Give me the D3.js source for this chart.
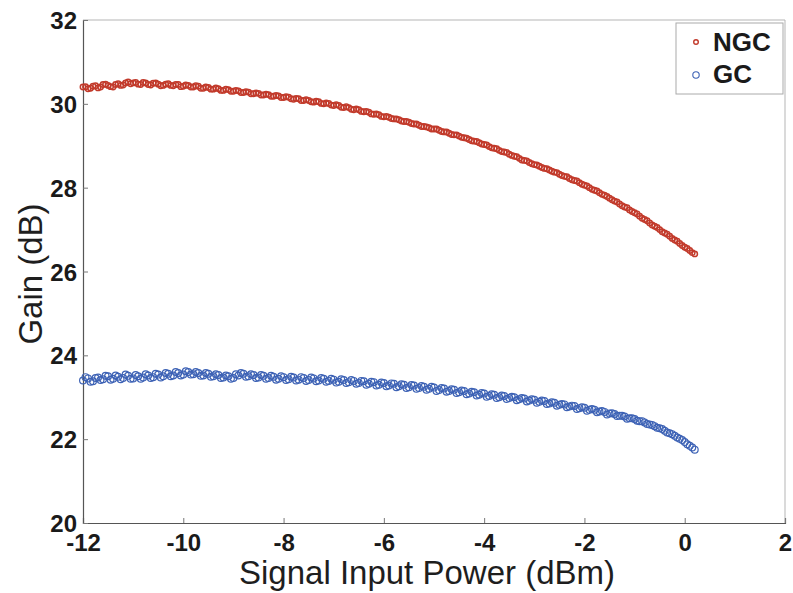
<!DOCTYPE html>
<html><head><meta charset="utf-8">
<script src="https://cdn.jsdelivr.net/npm/d3@7"></script>
<style>body{margin:0;background:#fff}svg{display:block}text{font-family:Arial,"Liberation Sans",sans-serif}</style>
</head><body>
<svg id="c" width="793" height="593"></svg>
<script>
// sweep 1: x from -12.0 step 0.1 ; sweep 2: x from -11.95 step 0.1
const xStart1 = -12.0, xStart2 = -11.95, xStep = 0.1;
const ngcGain = [30.40,30.36,30.42,30.38,30.46,30.44,30.40,30.48,30.45,30.52,30.50,30.47,30.51,30.46,30.49,30.47,30.44,30.48,30.43,30.46,
30.42,30.44,30.40,30.42,30.37,30.39,30.35,30.36,30.32,30.34,30.30,30.31,30.27,30.28,30.24,30.25,30.21,30.22,30.18,30.19,
30.15,30.16,30.11,30.12,30.08,30.08,30.04,30.05,30.00,30.01,29.96,29.96,29.91,29.91,29.86,29.86,29.81,29.80,29.75,29.74,
29.69,29.68,29.64,29.62,29.58,29.56,29.52,29.49,29.46,29.43,29.40,29.37,29.33,29.30,29.26,29.23,29.19,29.15,29.11,29.07,
29.03,28.98,28.94,28.89,28.85,28.80,28.75,28.70,28.65,28.60,28.55,28.51,28.46,28.42,28.37,28.32,28.27,28.22,28.17,28.12,
28.06,28.00,27.94,27.88,27.82,27.75,27.68,27.61,27.54,27.47,27.40,27.32,27.24,27.16,27.08,27.00,26.92,26.84,26.75,26.67,
26.58,26.50,26.42];
const ngcGain2 = [30.41,30.37,30.43,30.40,30.47,30.41,30.46,30.44,30.50,30.48,30.51,30.46,30.50,30.45,30.50,30.43,30.47,30.44,30.46,30.41,
30.45,30.40,30.43,30.37,30.40,30.35,30.38,30.32,30.35,30.30,30.32,30.27,30.29,30.24,30.26,30.21,30.23,30.18,30.20,30.15,
30.17,30.12,30.13,30.08,30.10,30.05,30.06,30.01,30.02,29.97,29.98,29.92,29.93,29.87,29.88,29.82,29.82,29.76,29.76,29.70,
29.70,29.65,29.64,29.59,29.58,29.53,29.52,29.46,29.45,29.40,29.40,29.34,29.33,29.27,29.26,29.20,29.18,29.12,29.10,29.04,
29.02,28.95,28.93,28.86,28.84,28.77,28.74,28.66,28.64,28.57,28.54,28.48,28.45,28.39,28.36,28.29,28.26,28.19,28.16,28.08,
28.04,27.96,27.92,27.84,27.79,27.71,27.66,27.57,27.52,27.43,27.37,27.27,27.21,27.11,27.05,26.95,26.89,26.79,26.72,26.62,
26.55,26.45];
const gcGain = [23.40,23.45,23.38,23.47,23.43,23.50,23.44,23.49,23.46,23.51,23.45,23.50,23.47,23.52,23.48,23.54,23.50,23.56,23.52,23.58,
23.54,23.60,23.55,23.58,23.52,23.56,23.50,23.53,23.47,23.50,23.46,23.52,23.56,23.50,23.53,23.47,23.51,23.46,23.49,23.44,
23.48,23.43,23.47,23.42,23.46,23.41,23.45,23.40,23.44,23.39,23.42,23.37,23.41,23.36,23.39,23.34,23.38,23.32,23.36,23.30,
23.34,23.28,23.32,23.26,23.30,23.24,23.28,23.22,23.25,23.20,23.23,23.17,23.21,23.15,23.18,23.12,23.15,23.09,23.12,23.06,
23.09,23.03,23.06,23.00,23.03,22.98,23.00,22.95,22.97,22.92,22.94,22.89,22.91,22.85,22.87,22.82,22.83,22.78,22.79,22.74,
22.75,22.70,22.70,22.66,22.65,22.61,22.60,22.56,22.54,22.50,22.48,22.43,22.40,22.35,22.31,22.26,22.20,22.14,22.08,22.01,
21.93,21.84,21.75];
const gcGain2 = [23.48,23.37,23.46,23.41,23.51,23.42,23.52,23.43,23.54,23.44,23.53,23.44,23.55,23.46,23.56,23.47,23.58,23.50,23.60,23.52,
23.62,23.54,23.60,23.51,23.58,23.49,23.55,23.46,23.52,23.44,23.55,23.58,23.49,23.55,23.46,23.53,23.44,23.51,23.42,23.50,
23.41,23.49,23.40,23.48,23.39,23.47,23.38,23.46,23.37,23.44,23.35,23.43,23.34,23.41,23.32,23.39,23.30,23.37,23.28,23.35,
23.26,23.33,23.24,23.31,23.22,23.29,23.20,23.27,23.18,23.25,23.15,23.22,23.13,23.19,23.10,23.16,23.07,23.13,23.04,23.10,
23.01,23.07,22.98,23.04,22.96,23.01,22.93,22.98,22.90,22.95,22.87,22.92,22.84,22.88,22.80,22.84,22.76,22.80,22.72,22.76,
22.68,22.72,22.64,22.67,22.59,22.62,22.55,22.56,22.49,22.50,22.44,22.43,22.36,22.34,22.27,22.24,22.16,22.12,22.04,21.98,
21.88,21.80];
const xTicks = [-12,-10,-8,-6,-4,-2,0,2];
const yTicks = [20,22,24,26,28,30,32];
const seriesNames = ["NGC","GC"];

const svg = d3.select("#c");
const L=83,R=785,T=20,B=523;
const x = d3.scaleLinear().domain([-12,2]).range([L,R]);
const y = d3.scaleLinear().domain([20,32]).range([B,T]);
const xAt = (s,i) => +(s + i*xStep).toFixed(2);
const pts = (arr,s) => arr.map((g,i)=>({x:xAt(s,i), y:g}));

svg.append("line").attr("x1",L).attr("x2",R).attr("y1",T).attr("y2",T).attr("stroke","#b5b5b5").attr("stroke-width",1);
svg.append("line").attr("x1",R).attr("x2",R).attr("y1",T).attr("y2",B).attr("stroke","#b5b5b5").attr("stroke-width",1);

const xa = svg.append("g").attr("transform",`translate(0,${B})`)
  .call(d3.axisBottom(x).tickValues(xTicks).tickSize(-5).tickPadding(11).tickFormat(d=>String(d)));
const ya = svg.append("g").attr("transform",`translate(${L},0)`)
  .call(d3.axisLeft(y).tickValues(yTicks).tickSize(-5).tickPadding(6).tickFormat(d=>String(d)));
[xa,ya].forEach(a=>{
  a.select(".domain").attr("stroke","#555").attr("stroke-width",1.2);
  a.selectAll(".tick line").attr("stroke","#777");
  a.selectAll("text").attr("font-size",24).attr("fill","#1a1a1a").attr("font-weight","bold");
});
ya.selectAll("text").attr("dy","0.36em");

const red="#c23a2b", blue="#3d62b5";
const gcPts = pts(gcGain,xStart1).concat(pts(gcGain2,xStart2));
const ngcPts = pts(ngcGain,xStart1).concat(pts(ngcGain2,xStart2));
svg.append("g").selectAll("circle").data(gcPts).join("circle")
  .attr("cx",d=>x(d.x)).attr("cy",d=>y(d.y)).attr("r",3.4)
  .attr("fill","none").attr("stroke",blue).attr("stroke-width",1.2);
svg.append("g").selectAll("circle").data(ngcPts).join("circle")
  .attr("cx",d=>x(d.x)).attr("cy",d=>y(d.y)).attr("r",2.7)
  .attr("fill","none").attr("stroke",red).attr("stroke-width",1.5);

svg.append("text").attr("x",427).attr("y",584).attr("text-anchor","middle")
  .attr("font-size",33).attr("fill","#1e1e1e").text("Signal Input Power (dBm)");
svg.append("text").attr("transform","translate(42,274) rotate(-90)").attr("text-anchor","middle")
  .attr("font-size",33).attr("fill","#1e1e1e").text("Gain (dB)");

const lg = svg.append("g");
lg.append("rect").attr("x",676).attr("y",23).attr("width",107).attr("height",71)
  .attr("fill","#fff").attr("stroke","#aaa").attr("stroke-width",1);
lg.append("circle").attr("cx",696).attr("cy",42).attr("r",2.3).attr("fill","none").attr("stroke",red).attr("stroke-width",1.4);
lg.append("circle").attr("cx",696).attr("cy",75).attr("r",3.2).attr("fill","none").attr("stroke",blue).attr("stroke-width",1.1);
lg.append("text").attr("x",713).attr("y",51).attr("font-size",26).attr("font-weight","bold").attr("fill","#1a1a1a").text(seriesNames[0]);
lg.append("text").attr("x",713).attr("y",83).attr("font-size",26).attr("font-weight","bold").attr("fill","#1a1a1a").text(seriesNames[1]);
</script>
</body></html>
